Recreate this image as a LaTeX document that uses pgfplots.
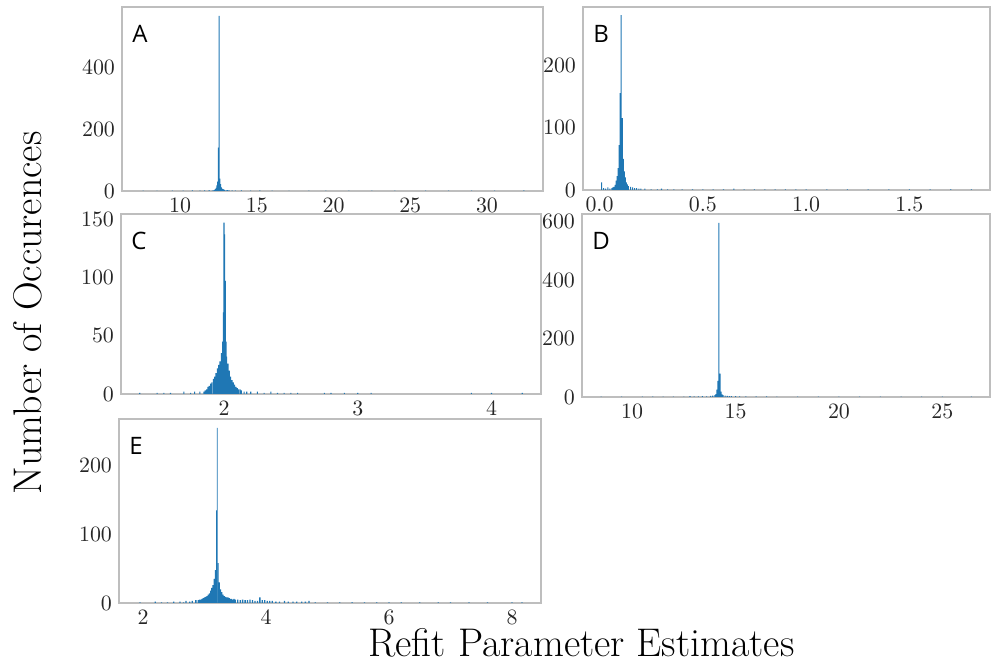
\documentclass[border=0pt]{standalone}
\usepackage{pgfplots}
\pgfplotsset{compat=1.18}
\usepackage{fontspec}
\newfontfamily\letterfont{Open Sans}
\definecolor{mplblue}{HTML}{1F77B4}
\definecolor{frame}{RGB}{190,190,190}
\pgfplotsset{
  panel/.style={
    scale only axis,
    anchor=north west,
    axis line style={draw=frame, line width=0.6pt},
    major tick length=0pt,
    tick label style={font=\fontsize{11}{13}\selectfont, text=black!85},
    ymin=0,
    clip=true,
  },
  bars/.style={ybar, fill=mplblue, draw=none, bar width=#1},
}
\newcommand{\panellabel}[1]{\node[anchor=north west, inner sep=0pt, font=\letterfont\fontsize{12}{14}\selectfont] at (rel axis cs:0,1) [xshift=5pt, yshift=-9pt] {#1};}
\begin{document}
\begin{tikzpicture}
\path[use as bounding box] (0,0) rectangle (496pt,331.5pt);

% A
\begin{axis}[panel, at={(61pt,328pt)}, width=210.5pt, height=92pt,
  xmin=6.22, xmax=33.65, ymax=593.5,
  xtick={10,15,20,25,30}, ytick={0,200,400}]
\addplot[bars=0.06] coordinates {
(7.6,1) (8.5,1) (9.5,1) (10.2,1) (10.8,2) (11.3,2) (11.6,2) (11.9,3) (12.1,2)
(12.20,3) (12.25,4) (12.30,6) (12.35,10) (12.40,18) (12.45,30) (12.50,140) (12.55,565)
(12.60,40) (12.65,22) (12.70,12) (12.75,8) (12.80,6) (12.85,5) (12.90,4) (13.0,3)
(13.1,3) (13.2,2) (13.4,2) (13.6,2) (14.0,2) (14.6,1) (15.2,2) (16.0,1) (17.1,1)
(18.4,1) (19.5,1) (21.0,1) (22.5,1) (24.0,1) (26.0,1) (27.5,1) (29.0,1) (30.5,1) (32.4,2)
};
\panellabel{A}
\end{axis}

% B
\begin{axis}[panel, at={(291.5pt,328pt)}, width=203.5pt, height=91.5pt,
  xmin=-0.08, xmax=1.89, ymax=293,
  xtick={0,0.5,1.0,1.5}, ytick={0,100,200},
  xticklabel style={/pgf/number format/fixed, /pgf/number format/fixed zerofill, /pgf/number format/precision=1}]
\addplot[bars=0.005] coordinates {
(0.010,12) (0.020,3) (0.030,2) (0.040,4) (0.050,2) (0.060,3) (0.065,4) (0.070,5)
(0.075,8) (0.080,15) (0.085,22) (0.090,35) (0.095,72) (0.100,155) (0.105,280)
(0.110,115) (0.115,50) (0.120,30) (0.125,20) (0.130,12) (0.135,9) (0.140,6)
(0.150,5) (0.160,4) (0.170,3) (0.180,3) (0.190,2) (0.200,2) (0.220,2) (0.250,1)
(0.280,1) (0.300,2) (0.330,1) (0.360,1) (0.400,1) (0.450,1) (0.500,1) (0.550,1)
(0.600,1) (0.650,2) (0.700,1) (0.750,1) (0.800,1) (0.850,1) (0.900,1) (0.950,1)
(1.000,1) (1.100,1) (1.200,1) (1.300,1) (1.400,1) (1.500,1) (1.600,1) (1.700,1) (1.800,1)
};
\panellabel{B}
\end{axis}

% C
\begin{axis}[panel, at={(60.5pt,224.5pt)}, width=210pt, height=90pt,
  xmin=1.23, xmax=4.37, ymax=154.5,
  xtick={2,3,4}, ytick={0,50,100,150}]
\addplot[bars=0.008] coordinates {
(1.37,1) (1.50,1) (1.55,1) (1.60,1) (1.70,2) (1.75,1) (1.78,2) (1.82,2)
(1.85,2) (1.86,3) (1.87,4) (1.88,6) (1.89,7) (1.90,9) (1.91,10) (1.92,13) (1.93,15)
(1.94,18) (1.95,22) (1.96,25) (1.97,28) (1.98,35) (1.99,45) (1.995,70) (2.000,147)
(2.005,137) (2.010,97) (2.015,45) (2.02,32) (2.03,26) (2.04,20) (2.05,15) (2.06,12)
(2.07,10) (2.08,8) (2.09,6) (2.10,5) (2.11,4) (2.12,4) (2.13,3) (2.15,2) (2.17,2)
(2.20,2) (2.25,2) (2.30,1) (2.35,2) (2.40,1) (2.45,1) (2.50,1) (2.55,1) (2.75,1)
(2.80,1) (2.90,1) (3.00,1) (3.10,1) (3.85,1) (4.00,1) (4.23,1)
};
\panellabel{C}
\end{axis}

% D
\begin{axis}[panel, at={(291pt,224.5pt)}, width=204pt, height=91.5pt,
  xmin=7.58, xmax=27.3, ymax=626,
  xtick={10,15,20,25}, ytick={0,200,400,600}]
\addplot[bars=0.05] coordinates {
(8.5,1) (9.5,1) (10.5,1) (11.0,1) (11.5,1) (12.0,1) (12.5,1) (12.8,3) (13.0,2)
(13.2,2) (13.4,3) (13.6,2) (13.8,4) (13.9,5) (14.00,6) (14.05,10) (14.10,25)
(14.15,55) (14.20,596) (14.25,80) (14.30,18) (14.35,9) (14.40,6) (14.50,5) (14.60,4)
(14.70,3) (14.80,3) (15.0,3) (15.2,2) (15.5,2) (16.0,2) (16.5,2) (17,1) (18,1)
(19,1) (20,1) (21,1) (22,1) (23,1) (24,1) (25,1) (26.4,1)
};
\panellabel{D}
\end{axis}

% E
\begin{axis}[panel, at={(59.5pt,122pt)}, width=211pt, height=92pt,
  xmin=1.61, xmax=8.47, ymax=268,
  xtick={2,4,6,8}, ytick={0,100,200},
  xticklabel style={inner sep=0.5pt, yshift=-3.1pt}]
\addplot[bars=0.021] coordinates {
(1.95,1) (2.20,2) (2.30,1) (2.40,1) (2.50,2) (2.60,2) (2.66,1) (2.70,3) (2.76,2) (2.80,3)
(2.86,4) (2.90,4) (2.92,5) (2.94,5) (2.96,6) (2.98,7) (3.00,8) (3.02,9) (3.04,10)
(3.06,12) (3.08,14) (3.10,18) (3.12,22) (3.14,26) (3.16,35) (3.18,48)
(3.22,58) (3.24,30) (3.26,20) (3.28,16) (3.30,12) (3.32,10) (3.34,9) (3.36,8)
(3.38,8) (3.40,7) (3.42,6) (3.44,6) (3.46,5) (3.48,6) (3.50,5) (3.54,5) (3.58,4)
(3.62,5) (3.66,4) (3.70,4) (3.74,5) (3.78,4) (3.82,3) (3.86,3) (3.90,8) (3.94,4)
(3.98,4) (4.02,3) (4.06,3) (4.10,3) (4.16,2) (4.22,2) (4.30,3) (4.36,2) (4.44,2)
(4.50,2) (4.58,2) (4.64,2) (4.70,3) (4.80,1) (5.00,1) (5.20,1) (5.40,1) (5.60,1)
(5.80,1) (6.00,1) (6.20,1) (6.50,1) (6.80,1) (7.00,1) (7.30,1) (7.60,1) (8.00,1) (8.16,1)
};
\addplot[bars=0.012] coordinates {(3.194,135) (3.206,255)};
\panellabel{E}
\end{axis}

\node[rotate=90, inner sep=0pt, font=\fontsize{20}{24}\selectfont] at (14pt,175pt) {Number of Occurences};
\node[anchor=base, inner sep=0pt, font=\fontsize{20}{24}\selectfont] at (290.75pt,3pt) {Refit Parameter Estimates};
\end{tikzpicture}
\end{document}
